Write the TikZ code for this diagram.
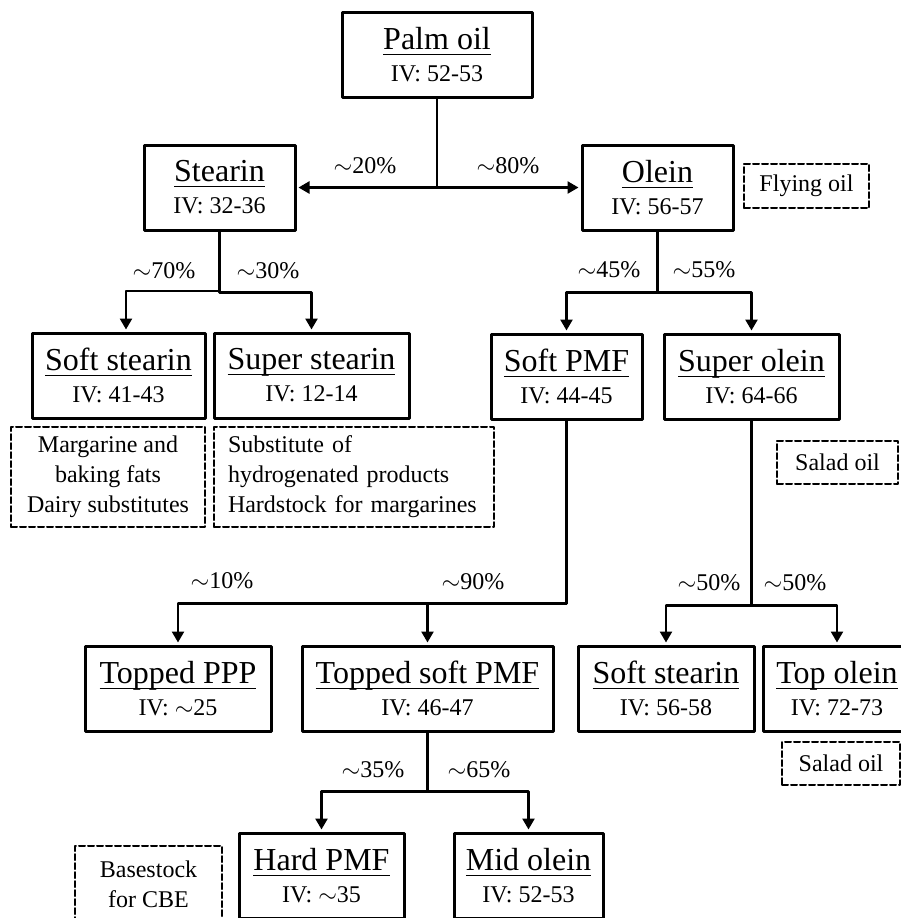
\documentclass[tikz,border=0pt]{standalone}
\usepackage{fontspec}
\setmainfont{Liberation Serif}
\usetikzlibrary{arrows.meta}

% Title with underline crossing the descenders
\newcommand{\ttl}[1]{\underline{\raisebox{0pt}[\height][1pt]{#1}}}
\newcommand{\oillabel}[2]{\ttl{#1}\\{\fontsize{12}{14}\selectfont #2}}

\tikzset{
  oilbox/.style={draw, line width=1.5pt, rectangle, minimum width=#1, minimum height=42.5pt,
    inner sep=0pt, align=center, font=\fontsize{16}{16}\selectfont},
  appbox/.style 2 args={draw, line width=1pt, dash pattern=on 3pt off 1.5pt, rectangle,
    minimum width=#1, minimum height=#2, inner sep=0pt, align=center,
    font=\fontsize{12}{15}\selectfont},
  link/.style={line width=1.2pt},
  arr/.style={line width=1.2pt, -{Triangle[length=5.5pt,width=6pt]}, shorten >=1pt},
  pct/.style={anchor=base, font=\fontsize{12}{14}\selectfont}
}

\begin{document}
\begin{tikzpicture}[x=0.5pt, y=-0.5pt, line cap=round, line join=round]

\useasboundingbox (0,0) rectangle (901,918);

% Fractions
\node[oilbox=95pt] (palm) at (437,54.5) {\oillabel{Palm oil}{IV: 52-53}};
\node[oilbox=75.5pt] (stearin) at (219.5,187.5) {\oillabel{Stearin}{IV: 32-36}};
\node[oilbox=75.5pt] (olein) at (657.5,187.5) {\oillabel{Olein}{IV: 56-57}};
\node[oilbox=86.5pt] (softst) at (118.5,375.5) {\oillabel{Soft stearin}{IV: 41-43}};
\node[oilbox=97.5pt] (superst) at (311.5,375.5) {\oillabel{Super stearin}{IV: 12-14}};
\node[oilbox=75.5pt] (softpmf) at (566.5,376.5) {\oillabel{Soft PMF}{IV: 44-45}};
\node[oilbox=87.5pt] (superol) at (751.5,376.5) {\oillabel{Super olein}{IV: 64-66}};
\node[oilbox=93pt] (topppp) at (178,688.5) {\oillabel{Topped PPP}{IV: $\sim$25}};
\node[oilbox=125.5pt] (topsoft) at (427.5,688.5) {\oillabel{Topped soft PMF}{IV: 46-47}};
\node[oilbox=88pt] (softst2) at (666,688.5) {\oillabel{Soft stearin}{IV: 56-58}};
\node[oilbox=74pt] (topol) at (837,688.5) {\oillabel{Top olein}{IV: 72-73}};
\node[oilbox=82.5pt] (hardpmf) at (321.5,875.5) {\oillabel{Hard PMF}{IV: $\sim$35}};
\node[oilbox=74.5pt] (midol) at (528.5,875.5) {\oillabel{Mid olein}{IV: 52-53}};

% Uses
\node[appbox={62.5pt}{22pt}] (frying) at (806.5,186) {Flying oil};
\node[appbox={97pt}{50pt}] (margarine) at (108,477) {Margarine and\\baking fats\\Dairy substitutes};
\node[appbox={140pt}{50pt}, align=left, text width=126pt] (substitute) at (354,477)
  {Substitute of\\hydrogenated products\\Hardstock for margarines};
\node[appbox={60.5pt}{21.5pt}] (salad) at (837.5,462.5) {Salad oil};
\node[appbox={59pt}{21.5pt}] (salad2) at (841,763.5) {Salad oil};
\node[appbox={73.5pt}{38pt}] (basestock) at (148.5,884) {Basestock\\for CBE};

% Palm oil split
\coordinate (split) at (palm.south |- stearin.east);
\draw[link] (palm.south) -- (split);
\draw[arr] (split) -- (stearin.east);
\draw[arr] (split) -- (olein.west);

% Stearin split
\coordinate (stL) at (126,291);
\draw[arr] (stearin.south) |- (stL) -- (stL |- softst.north);
\draw[arr] (stearin.south) -- ++(0,61) -| (superst.north);

% Olein split
\draw[arr] (olein.south) -- ++(0,61) -| (softpmf.north);
\draw[arr] (olein.south) -- ++(0,61) -| (superol.north);

% Soft PMF split
\draw[arr] (softpmf.south) -- ++(0,183) -| (topppp.north);
\draw[arr] (softpmf.south) -- ++(0,183) -| (topsoft.north);

% Super olein split
\draw[arr] (superol.south) -- ++(0,185) -| (softst2.north);
\draw[arr] (superol.south) -- ++(0,185) -| (topol.north);

% Topped soft PMF split
\draw[arr] (topsoft.south) -- ++(0,59) -| (hardpmf.north);
\draw[arr] (topsoft.south) -- ++(0,59) -| (midol.north);

% Yields
\node[pct] (p20) at (365,173) {$\sim$20\%};
\node[pct] (p80) at (508,173) {$\sim$80\%};
\node[pct] (p70) at (164,278) {$\sim$70\%};
\node[pct] (p30) at (268,278) {$\sim$30\%};
\node[pct] (p45) at (609,277) {$\sim$45\%};
\node[pct] (p55) at (704,277) {$\sim$55\%};
\node[pct] (p10) at (222,588) {$\sim$10\%};
\node[pct] (p90) at (473,589) {$\sim$90\%};
\node[pct] (p50a) at (709,590) {$\sim$50\%};
\node[pct] (p50b) at (795,590) {$\sim$50\%};
\node[pct] (p35) at (373,777) {$\sim$35\%};
\node[pct] (p65) at (479,777) {$\sim$65\%};

\end{tikzpicture}
\end{document}
